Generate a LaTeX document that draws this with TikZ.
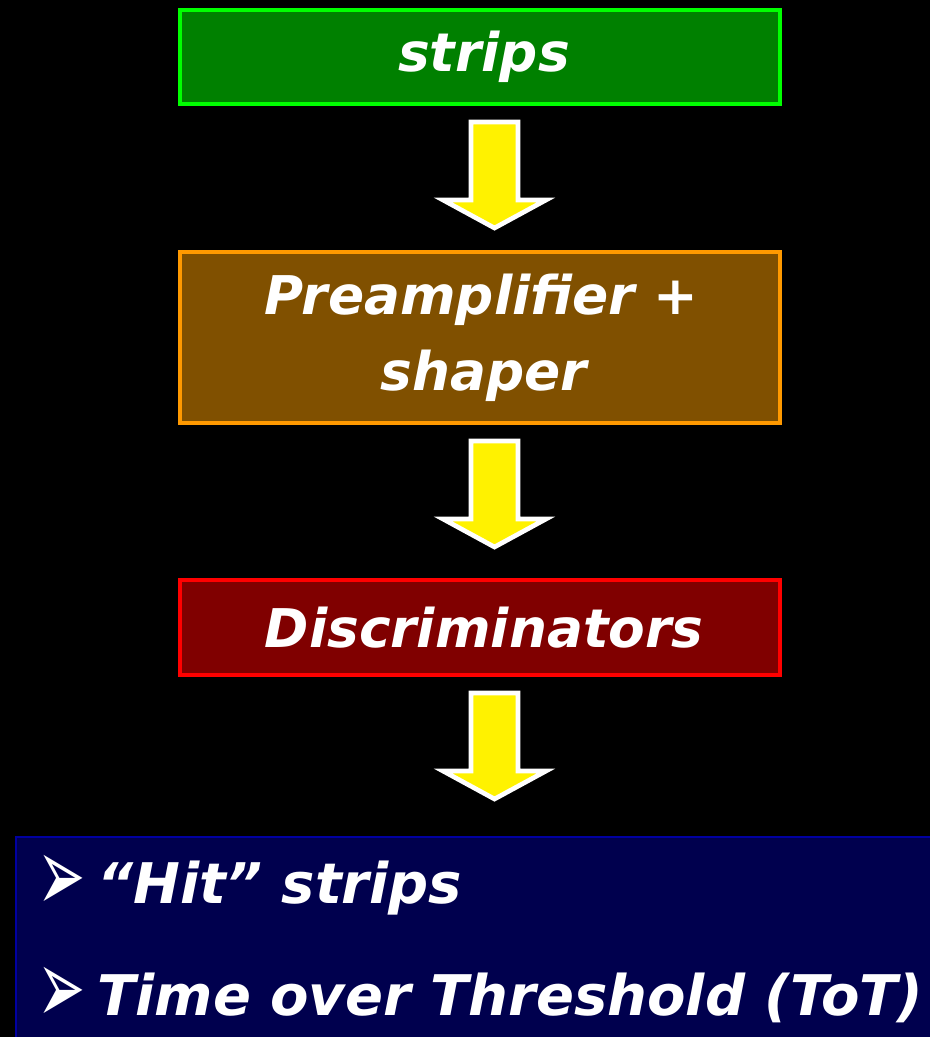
\documentclass[tikz,border=0pt]{standalone}
\usepackage{fontspec}
\setmainfont{DejaVu Sans}
\newfontfamily\symfont{DejaVu Sans}
\usetikzlibrary{calc}

\definecolor{stripfill}{RGB}{0,128,0}
\definecolor{stripline}{RGB}{0,255,0}
\definecolor{prefill}{RGB}{128,80,0}
\definecolor{preline}{RGB}{255,153,0}
\definecolor{discfill}{RGB}{128,0,0}
\definecolor{discline}{RGB}{255,0,0}
\definecolor{outfill}{RGB}{0,0,78}
\definecolor{outline}{RGB}{0,0,160}

\tikzset{
    stage/.style={draw, line width=3pt, minimum width=450pt, text=white, align=center,
        font=\fontsize{40}{57}\selectfont\bfseries\itshape},
    flowarrow/.style={draw=white, fill=yellow, line width=3.5pt, line join=miter},
    outtext/.style={anchor=base west, text=white, inner sep=0pt,
        font=\fontsize{42}{50}\selectfont\bfseries\itshape}
}

\newcommand{\flowarrow}[1]{%
    \draw[flowarrow] ($(#1.south)+(-9,16)$) -- ++(47,0) -- ++(0,78) -- ++(28,0)
        -- ++(-51.5,28) -- ++(-51.5,-28) -- ++(28,0) -- cycle;
}
\newcommand{\outbullet}{\makebox[45pt][l]{\raisebox{-6.5pt}{\scalebox{1.2}[2.2]{\symfont\fontsize{36}{36}\selectfont\mdseries\upshape ➢}}}}

\begin{document}
\begin{tikzpicture}[x=0.75pt,y=-0.75pt]
    \fill[black] (0,0) rectangle (930,1037);
    \clip (0,0) rectangle (930,1037);

    \node[stage, fill=stripfill, draw=stripline, minimum height=70.5pt] (strips) at (480,57) {\hspace*{6pt}\raisebox{-2pt}{strips}};
    \node[stage, fill=prefill, draw=preline, minimum height=128.25pt] (pre) at (480,337.5) {\hspace*{2pt}Preamplifier +\\\hspace*{6pt}shaper};
    \node[stage, fill=discfill, draw=discline, minimum height=71.25pt] (disc) at (480,627.5) {\hspace*{6pt}\raisebox{-1pt}{Discriminators}};
    \node[draw=outline, fill=outfill, line width=1.5pt, anchor=north west,
        minimum width=700pt, minimum height=170pt] (out) at (15,836) {};

    \flowarrow{strips}
    \flowarrow{pre}
    \flowarrow{disc}

    \node[outtext] (hit) at (37,903) {\outbullet“Hit” strips};
    \node[outtext] (tot) at (37,1015) {\outbullet Time over Threshold (ToT)};
\end{tikzpicture}
\end{document}
